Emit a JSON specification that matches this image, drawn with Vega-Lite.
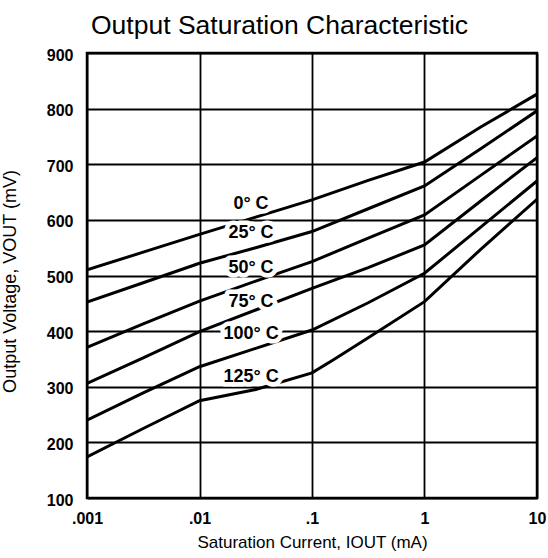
{
  "$schema": "https://vega.github.io/schema/vega-lite/v6.json",
  "width": 450,
  "height": 445,
  "autosize": {"type": "none"},
  "padding": {"left": 87, "top": 53, "right": 11, "bottom": 60},
  "background": "white",
  "title": {
    "text": "Output Saturation Characteristic",
    "anchor": "start",
    "frame": "group",
    "font": "Liberation Sans",
    "fontSize": 26.5,
    "fontWeight": "normal",
    "color": "black",
    "baseline": "alphabetic",
    "offset": 20,
    "dx": 4,
    "dy": 33
  },
  "config": {
    "view": {"stroke": "black", "strokeWidth": 2.5},
    "axis": {
      "domain": false,
      "ticks": false,
      "tickSize": 0,
      "grid": true,
      "gridColor": "black",
      "gridOpacity": 1,
      "gridWidth": 1.8,
      "labelFont": "Liberation Sans",
      "labelFontSize": 16,
      "labelFontWeight": "bold",
      "labelColor": "black",
      "labelFlush": false,
      "labelOverlap": false,
      "labelBound": false,
      "titleFont": "Liberation Sans",
      "titleFontWeight": "normal",
      "titleColor": "black"
    }
  },
  "datasets": {
    "curves": [
      {"t": "0° C", "i": 0.001, "v": 510},
      {"t": "0° C", "i": 0.00316, "v": 542},
      {"t": "0° C", "i": 0.01, "v": 574},
      {"t": "0° C", "i": 0.0316, "v": 605},
      {"t": "0° C", "i": 0.1, "v": 636},
      {"t": "0° C", "i": 0.316, "v": 671},
      {"t": "0° C", "i": 1, "v": 704},
      {"t": "0° C", "i": 3.16, "v": 767},
      {"t": "0° C", "i": 10, "v": 826},
      {"t": "25° C", "i": 0.001, "v": 452},
      {"t": "25° C", "i": 0.00316, "v": 487},
      {"t": "25° C", "i": 0.01, "v": 522},
      {"t": "25° C", "i": 0.0316, "v": 550},
      {"t": "25° C", "i": 0.1, "v": 579},
      {"t": "25° C", "i": 0.316, "v": 620},
      {"t": "25° C", "i": 1, "v": 661},
      {"t": "25° C", "i": 3.16, "v": 728},
      {"t": "25° C", "i": 10, "v": 796},
      {"t": "50° C", "i": 0.001, "v": 371},
      {"t": "50° C", "i": 0.00316, "v": 413},
      {"t": "50° C", "i": 0.01, "v": 454},
      {"t": "50° C", "i": 0.0316, "v": 490},
      {"t": "50° C", "i": 0.1, "v": 525},
      {"t": "50° C", "i": 0.316, "v": 567},
      {"t": "50° C", "i": 1, "v": 609},
      {"t": "50° C", "i": 3.16, "v": 680},
      {"t": "50° C", "i": 10, "v": 751},
      {"t": "75° C", "i": 0.001, "v": 306},
      {"t": "75° C", "i": 0.00316, "v": 352},
      {"t": "75° C", "i": 0.01, "v": 399},
      {"t": "75° C", "i": 0.0316, "v": 438},
      {"t": "75° C", "i": 0.1, "v": 477},
      {"t": "75° C", "i": 0.316, "v": 514},
      {"t": "75° C", "i": 1, "v": 555},
      {"t": "75° C", "i": 3.16, "v": 634},
      {"t": "75° C", "i": 10, "v": 712},
      {"t": "100° C", "i": 0.001, "v": 240},
      {"t": "100° C", "i": 0.00316, "v": 289},
      {"t": "100° C", "i": 0.01, "v": 336},
      {"t": "100° C", "i": 0.0316, "v": 369},
      {"t": "100° C", "i": 0.1, "v": 402},
      {"t": "100° C", "i": 0.316, "v": 451},
      {"t": "100° C", "i": 1, "v": 504},
      {"t": "100° C", "i": 3.16, "v": 587},
      {"t": "100° C", "i": 10, "v": 670},
      {"t": "125° C", "i": 0.001, "v": 174},
      {"t": "125° C", "i": 0.00316, "v": 225},
      {"t": "125° C", "i": 0.01, "v": 275},
      {"t": "125° C", "i": 0.0316, "v": 295},
      {"t": "125° C", "i": 0.1, "v": 325},
      {"t": "125° C", "i": 0.154, "v": 348},
      {"t": "125° C", "i": 0.316, "v": 388},
      {"t": "125° C", "i": 1, "v": 453},
      {"t": "125° C", "i": 3.16, "v": 547},
      {"t": "125° C", "i": 10, "v": 637}
    ],
    "labels": [
      {"t": "0° C", "i": 0.0287, "v": 629},
      {"t": "25° C", "i": 0.0287, "v": 576},
      {"t": "50° C", "i": 0.0287, "v": 513},
      {"t": "75° C", "i": 0.0287, "v": 452},
      {"t": "100° C", "i": 0.0287, "v": 395},
      {"t": "125° C", "i": 0.0287, "v": 318}
    ]
  },
  "encoding": {
    "x": {
      "field": "i",
      "type": "quantitative",
      "scale": {"type": "log", "domain": [0.001, 10], "nice": false},
      "axis": {
        "title": "Saturation Current, IOUT (mA)",
        "values": [0.001, 0.01, 0.1, 1, 10],
        "labelExpr": "datum.value < 0.005 ? '.001' : datum.value < 0.05 ? '.01' : datum.value < 0.5 ? '.1' : datum.value < 5 ? '1' : '10'",
        "labelBaseline": "alphabetic",
        "labelPadding": 25,
        "titleFontSize": 17,
        "titleBaseline": "alphabetic",
        "titleY": 49
      }
    },
    "y": {
      "field": "v",
      "type": "quantitative",
      "scale": {"domain": [100, 900], "nice": false, "zero": false},
      "axis": {
        "title": "Output Voltage, VOUT (mV)",
        "values": [100, 200, 300, 400, 500, 600, 700, 800, 900],
        "labelPadding": 14,
        "labelBaseline": "middle",
        "labelOffset": 2,
        "titleFontSize": 18,
        "titleAngle": -90,
        "titleBaseline": "alphabetic",
        "titleAlign": "center",
        "titleX": -72,
        "titleY": 228
      }
    }
  },
  "layer": [
    {
      "data": {"name": "curves"},
      "mark": {"type": "line", "color": "black", "strokeWidth": 3, "clip": true},
      "encoding": {"detail": {"field": "t"}}
    },
    {
      "data": {"name": "labels"},
      "mark": {
        "type": "text",
        "font": "Liberation Sans",
        "fontSize": 18,
        "fontWeight": "bold",
        "align": "center",
        "baseline": "middle",
        "fill": "white",
        "stroke": "white",
        "strokeWidth": 9,
        "strokeJoin": "round"
      },
      "encoding": {"text": {"field": "t"}}
    },
    {
      "data": {"name": "labels"},
      "mark": {
        "type": "text",
        "font": "Liberation Sans",
        "fontSize": 18,
        "fontWeight": "bold",
        "align": "center",
        "baseline": "middle",
        "fill": "black"
      },
      "encoding": {"text": {"field": "t"}}
    }
  ]
}
